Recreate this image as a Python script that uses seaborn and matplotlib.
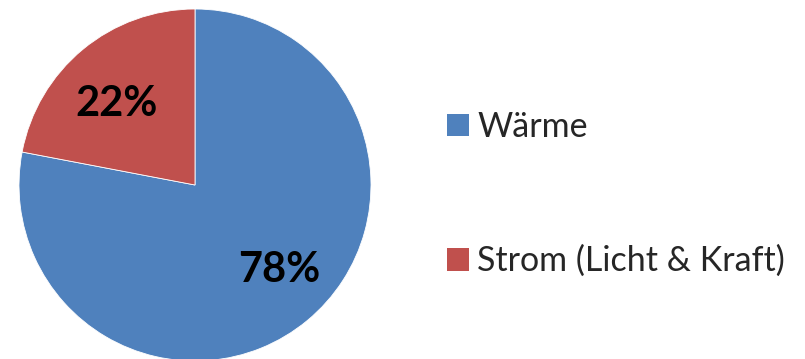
import matplotlib
matplotlib.use("Agg")
import matplotlib.pyplot as plt
import numpy as np
import seaborn as sns

categories = ["Wärme", "Strom (Licht & Kraft)"]
values = [78, 22]
colors = ["#4F81BD", "#C0504D"]

sns.set_theme(style="white")
plt.rcParams["font.family"] = ["Lato", "DejaVu Sans"]

W, H = 805, 359
fig = plt.figure(figsize=(W / 100, H / 100), dpi=100)
ax = fig.add_axes([0, 0, 1, 1])

cx, cy, R = 195, H - 185, 176
wedges, texts, autotexts = ax.pie(
    values,
    colors=colors,
    startangle=90,
    counterclock=False,
    center=(cx, cy),
    radius=R,
    autopct="%1.0f%%",
    pctdistance=0.66,
    wedgeprops=dict(edgecolor="white", linewidth=0.6),
    textprops=dict(fontsize=30, fontweight="bold", color="black"),
    frame=True,
)
# Excel-style label placement
for t, a, d in zip(autotexts, (-45, 134), (0.68, 0.64)):
    ang = np.deg2rad(a)
    t.set_position((cx + d * R * np.cos(ang), cy + d * R * np.sin(ang)))

ax.set_xlim(0, W)
ax.set_ylim(0, H)
ax.set_aspect("equal")
ax.axis("off")

leg = ax.legend(
    wedges, categories,
    loc="upper left",
    bbox_to_anchor=(447 / W, 1 - 111 / H),
    frameon=False,
    fontsize=24.5,
    handlelength=0.64,
    handleheight=0.64,
    handletextpad=0.25,
    labelspacing=3.0,
    borderaxespad=0,
    borderpad=0,
)
for h in leg.legend_handles:
    h.set_edgecolor("none")

fig.savefig("out.png", dpi=100, facecolor="white")
